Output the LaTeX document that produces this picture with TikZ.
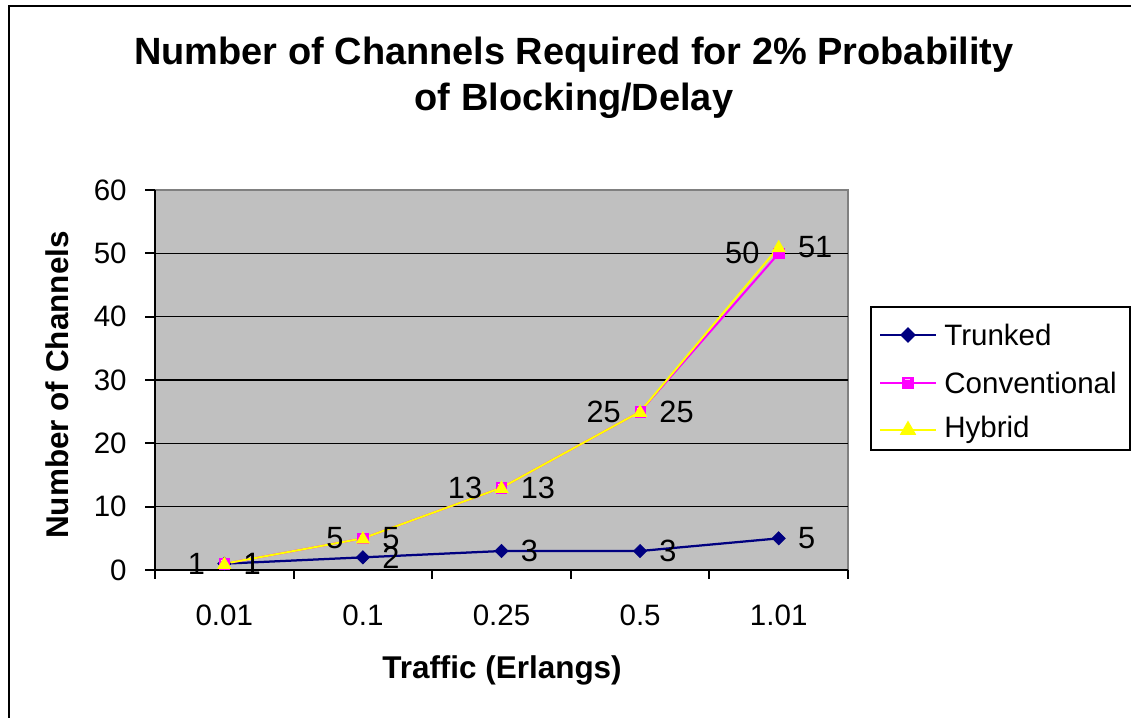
\documentclass[tikz,border=0pt]{standalone}
\usepackage{fontspec}
\setmainfont{Liberation Sans}
\usetikzlibrary{positioning,shapes.geometric}
\definecolor{navy}{RGB}{0,0,128}
\definecolor{conmag}{RGB}{255,0,255}
\definecolor{hybyel}{RGB}{255,255,0}
\definecolor{plotgray}{RGB}{192,192,192}
\definecolor{rimgray}{RGB}{128,128,128}

\begin{document}
\begin{tikzpicture}[x=0.02cm,y=-0.02cm,
  ticklabel/.style={inner sep=0pt,font=\fontsize{16.8}{20}\selectfont},
  vallabel/.style={inner sep=0pt,font=\fontsize{17.5}{21}\selectfont},
  axistitle/.style={inner sep=0pt,font=\fontsize{17.9}{22}\selectfont\bfseries},
  trkline/.style={draw=navy,line width=0.045cm},
  conline/.style={draw=conmag,line width=0.04cm},
  hybline/.style={draw=hybyel,line width=0.04cm},
  trkmark/.style={diamond,draw=navy,fill=navy,inner sep=0pt,minimum size=0.27cm},
  conmark/.style={rectangle,draw=conmag,fill=conmag,inner sep=0pt,minimum size=0.21cm,
    path picture={\draw[conmag!25,line width=0.3pt] ([shift={(0.05cm,-0.04cm)}]path picture bounding box.north west) rectangle ([shift={(0.02cm,0.07cm)}]path picture bounding box.center);}},
  hybmark/.style={regular polygon,regular polygon sides=3,draw=hybyel,fill=hybyel,inner sep=0pt,minimum size=0.3cm}]
\useasboundingbox (0,0) rectangle (1131,717);
\clip (0,0) rectangle (1131,717);
% outer frame
\draw[line width=0.04cm] (9,6) rectangle (1145,735);

% title
\node[inner sep=0pt,align=center,font=\fontsize{21.6}{26}\selectfont\bfseries] (title) at (574,78)
  {Number of Channels Required for 2\% Probability\\of Blocking/Delay};

% plot area
\fill[plotgray] (155,190) rectangle (848,570);
\draw[rimgray,line width=0.05cm] (155,190) -- (848,190) -- (848,570);
\foreach \v in {10,20,30,40,50}
  \draw[line width=0.03cm] (155,{570-6.333*\v}) -- (848,{570-6.333*\v});
\draw[line width=0.04cm] (155,190) -- (155,570) -- (848,570);
\foreach \v in {0,10,...,60} {
  \draw[line width=0.04cm] (145,{570-6.333*\v}) -- (155,{570-6.333*\v});
  \node[ticklabel,anchor=east] (y\v) at (127,{570-6.333*\v}) {\v};
}
\foreach \i in {0,...,5}
  \draw[line width=0.04cm] ({155+138.6*\i},570) -- ({155+138.6*\i},579);
\foreach \c [count=\i] in {0.01,0.1,0.25,0.5,1.01}
  \node[ticklabel] (x\i) at ({155+69.3+138.6*(\i-1)},615) {\c};

% axis titles
\node[axistitle,rotate=90] (ytitle) at (57,385) {Number of Channels};
\node[axistitle] (xtitle) at (502,670) {Traffic (Erlangs)};

% data points
\foreach \v [count=\i] in {1,2,3,3,5}
  \coordinate (t\i) at ({155+69.3+138.6*(\i-1)},{570-6.333*\v});
\foreach \v [count=\i] in {1,5,13,25,50}
  \coordinate (c\i) at ({155+69.3+138.6*(\i-1)},{570-6.333*\v});
\foreach \v [count=\i] in {1,5,13,25,51}
  \coordinate (h\i) at ({155+69.3+138.6*(\i-1)},{570-6.333*\v});

% series
\draw[trkline] (t1) -- (t2) -- (t3) -- (t4) -- (t5);
\draw[conline] (c1) -- (c2) -- (c3) -- (c4) -- (c5);
\draw[hybline] (h1) -- (h2) -- (h3) -- (h4) -- (h5);
\foreach \i in {1,...,5} {
  \node[trkmark] at (t\i) {};
  \node[conmark] at (c\i) {};
  \node[hybmark] at ([yshift=-0.02cm]h\i) {};
}

% value labels
\foreach \v [count=\i] in {1,2,3,3,5}
  \node[vallabel,anchor=west] at ([xshift=0.38cm]t\i) {\v};
\foreach \v [count=\i] in {1,5,13,25,50}
  \node[vallabel,anchor=east] at ([xshift=-0.38cm]c\i) {\v};
\foreach \v [count=\i] in {1,5,13,25,51}
  \node[vallabel,anchor=west] at ([xshift=0.38cm]h\i) {\v};

% legend
\draw[line width=0.04cm,fill=white] (871,307) rectangle (1130,450);
\coordinate (l1) at (880,335);
\coordinate (l2) at (880,383);
\coordinate (l3) at (880,430);
\draw[trkline] (l1) -- ++(56,0) node[trkmark,pos=0.5] {};
\draw[conline] (l2) -- ++(56,0) node[conmark,pos=0.5] {};
\draw[hybline] (l3) -- ++(56,0) node[hybmark,pos=0.5] {};
\node[ticklabel,anchor=west] (leg1) at (944,335) {Trunked};
\node[ticklabel,anchor=west] (leg2) at (944,383) {Conventional};
\node[ticklabel,anchor=west] (leg3) at (944,430) {Hybrid};
\end{tikzpicture}
\end{document}
